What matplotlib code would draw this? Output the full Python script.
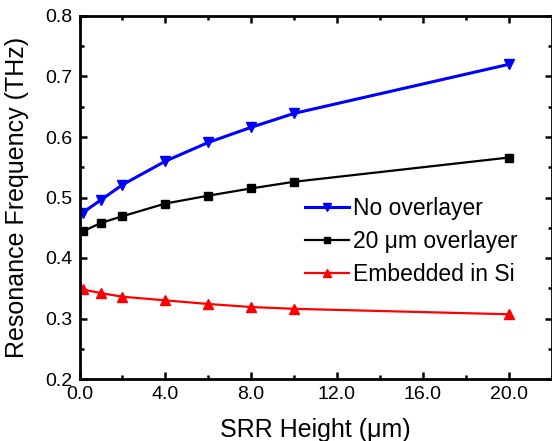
import numpy as np
import matplotlib
matplotlib.use('Agg')
import matplotlib.pyplot as plt
from matplotlib.ticker import MultipleLocator, FormatStrFormatter

plt.rcParams['font.family'] = ['Liberation Sans', 'DejaVu Sans']

# SRR height (um) and resonance frequency (THz)
height = [0.15, 1, 2, 4, 6, 8, 10, 20]
no_overlayer = [0.475, 0.496, 0.521, 0.560, 0.591, 0.616, 0.639, 0.720]
overlayer_20um = [0.444, 0.458, 0.469, 0.490, 0.503, 0.515, 0.526, 0.566]
embedded_si = [0.348, 0.342, 0.336, 0.330, 0.324, 0.319, 0.316, 0.307]

fig = plt.figure(figsize=(5.52, 4.41), dpi=100)
ax = fig.add_axes([79.5 / 552, 1 - 379 / 441, 472 / 552, 363 / 441])

ax.plot(height, no_overlayer, color='#0000ff', lw=2.2, marker='v', ms=7.5,
        label='No overlayer')
ax.plot(height, overlayer_20um, color='black', lw=1.6, marker='s', ms=6,
        label='20 \u03bcm overlayer')
ax.plot(height, embedded_si, color='#ff0000', lw=1.6, marker='^', ms=7.5,
        label='Embedded in Si')

ax.set_xlim(0, 22)
ax.set_ylim(0.2, 0.8)
ax.xaxis.set_major_locator(MultipleLocator(4))
ax.xaxis.set_minor_locator(MultipleLocator(2))
ax.yaxis.set_major_locator(MultipleLocator(0.1))
ax.yaxis.set_minor_locator(MultipleLocator(0.05))
ax.xaxis.set_major_formatter(FormatStrFormatter('%.1f'))
ax.yaxis.set_major_formatter(FormatStrFormatter('%.1f'))

ax.tick_params(which='both', direction='in', top=True, right=True, width=1.8,
               labelsize=14, pad=5)
ax.tick_params(which='major', length=5)
ax.tick_params(which='minor', length=3)
for s in ax.spines.values():
    s.set_linewidth(2)

ax.set_xlabel('SRR Height (\u03bcm)', fontsize=18)
ax.set_ylabel('Resonance Frequency (THz)', fontsize=18)
ax.xaxis.set_label_coords(0.5, -0.108)
ax.yaxis.set_label_coords(-0.108, 0.5)

ax.legend(loc='upper left', bbox_to_anchor=(305 / 552, 1 - 197 / 441),
          bbox_transform=fig.transFigure, frameon=False, fontsize=16.5,
          handlelength=1.9, handletextpad=0.2, labelspacing=0.43,
          borderpad=0, borderaxespad=0, markerscale=0.72)

fig.savefig('out.png', dpi=100)
